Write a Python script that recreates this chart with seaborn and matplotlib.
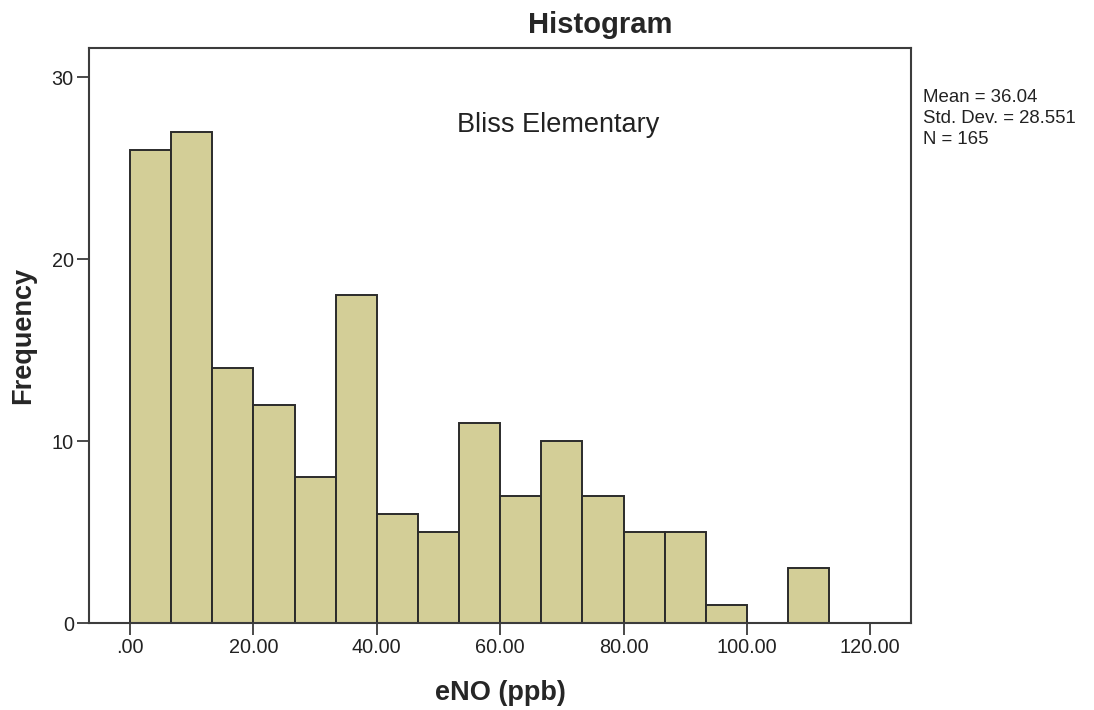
import numpy as np
import pandas as pd
import seaborn as sns
import matplotlib.pyplot as plt

# eNO histogram counts (Bliss Elementary), 17 bins of width 20/3 starting at 0
counts = [26, 27, 14, 12, 8, 18, 6, 5, 11, 7, 10, 7, 5, 5, 1, 0, 3]
bin_start = 0.0
bin_width = 20 / 3
x_ticks = [0, 20, 40, 60, 80, 100, 120]
x_tick_labels = ['.00', '20.00', '40.00', '60.00', '80.00', '100.00', '120.00']
y_ticks = [0, 10, 20, 30]
stats_text = 'Mean = 36.04\nStd. Dev. = 28.551\nN = 165'

bin_end = bin_start + bin_width * len(counts)
centers = bin_start + bin_width * (np.arange(len(counts)) + 0.5)
df = pd.DataFrame({'eNO': centers, 'n': counts})

sns.set_style('white')
plt.rcParams['font.family'] = ['Liberation Sans', 'DejaVu Sans']

fig = plt.figure(figsize=(10.94, 7.10), dpi=100)
ax = fig.add_axes([0.0814, 0.1225, 0.7513, 0.8099])

sns.histplot(data=df, x='eNO', weights='n', binwidth=bin_width,
             binrange=(bin_start, bin_end), ax=ax,
             color='#D3CE97', alpha=1, edgecolor='#2b2b2b', linewidth=1.4)

ax.set_xlim(-6.65, 126.6)
ax.set_ylim(0, 31.6)
ax.set_xticks(x_ticks)
ax.set_xticklabels(x_tick_labels)
ax.set_yticks(y_ticks)
ax.tick_params(axis='both', direction='out', length=8.5, width=1.3,
               color='#3c3c3c', labelsize=14.3, labelcolor='#222222',
               bottom=True, left=True)
ax.tick_params(axis='x', pad=2.5)
ax.tick_params(axis='y', pad=2.5)
for s in ax.spines.values():
    s.set_visible(True)
    s.set_color('#3c3c3c')
    s.set_linewidth(1.5)

ax.set_xlabel('eNO (ppb)', fontsize=19.5, fontweight='bold', labelpad=16.5)
ax.set_ylabel('Frequency', fontsize=19.5, fontweight='bold', labelpad=11.5)

ax.text(0.571, 0.866, 'Bliss Elementary', transform=ax.transAxes,
        ha='center', va='center', fontsize=19.5, color='#222222')
fig.text(600 / 1094, 1 - 25 / 710, 'Histogram', ha='center', va='center',
         fontsize=21, fontweight='bold')
fig.text(923 / 1094, 1 - 89 / 710, stats_text, ha='left', va='top',
         fontsize=13.4, color='#222222', linespacing=1.32)

fig.savefig('out.png', dpi=100)
